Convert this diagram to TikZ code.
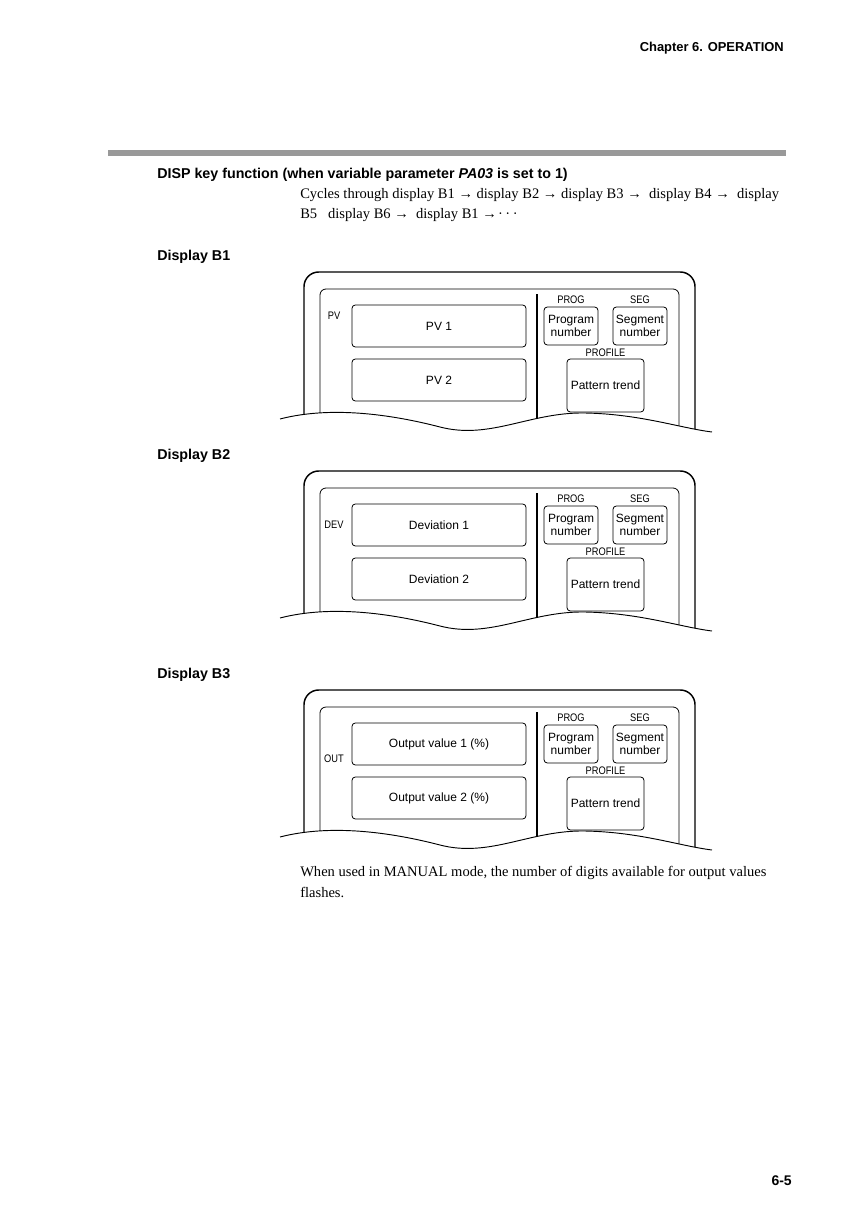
\documentclass[tikz,border=0pt]{standalone}
\usepackage{fontspec}
\setmainfont{Liberation Serif}
\setsansfont{Liberation Sans}
\newfontfamily\narrowsans[FakeStretch=0.85]{Liberation Sans}
\usetikzlibrary{positioning}
\definecolor{rulegray}{RGB}{153,153,153}
% torn-off lower edge of a display panel
\newcommand\wavecut{(280,419) .. controls (330,406) and (390,414) .. (440,427) .. controls (490,440) and (530,412) .. (585,413) .. controls (640,414) and (680,428) .. (712,432)}

\begin{document}
\begin{tikzpicture}[x=0.75pt, y=-0.75pt,
  headtext/.style={font=\fontsize{10.7}{12}\selectfont\sffamily\bfseries, anchor=base west, inner sep=0pt},
  bodytext/.style={font=\fontsize{10.9}{13}\selectfont\rmfamily, anchor=base west, inner sep=0pt},
  tagtext/.style={font=\fontsize{8.2}{9}\selectfont\narrowsans, inner sep=0pt},
  panelbox/.style={draw, line width=0.6pt, rounded corners=2.5pt, inner sep=1pt, align=center, font=\fontsize{9}{9.5}\selectfont\sffamily},
  widebox/.style={panelbox, minimum width=130.5pt, minimum height=31.5pt},
  smallbox/.style={panelbox, minimum width=40.5pt, minimum height=28.5pt},
  trendbox/.style={panelbox, minimum width=57.75pt, minimum height=39.75pt}]
\useasboundingbox (0,0) rectangle (867,1227);

\node[font=\fontsize{9.7}{11}\selectfont\sffamily\bfseries, anchor=base east, inner sep=0pt] (chap) at (784,52) {Chapter 6. OPERATION};
\fill[rulegray] (108,150) rectangle (786,156);

\node[headtext] (title) at (157,178) {DISP key function (when variable parameter \textit{PA03} is set to 1)};
\node[bodytext] (cyc1) at (300,198) {Cycles through display B1 → display B2 → display B3 →\ \ display B4 →\ \ display};
\node[bodytext] (cyc2) at (300,218) {B5\ \ \ display B6 →\ \ display B1 →\kern1pt·\,·\,·};

\foreach \dy/\tag/\tagy/\ta/\tb [count=\i] in {0/PV/316/PV 1/PV 2, 199/DEV/326/Deviation 1/Deviation 2, 418/OUT/341/Output value 1 (\%)/Output value 2 (\%)}
{
\begin{scope}[shift={(0,\dy)}]
  \node[headtext] (head\i) at (157,260) {Display B\i};
  \begin{scope}
    \clip \wavecut -- (712,260) -- (280,260) -- cycle;
    \draw[line width=1.1pt, rounded corners=11pt] (304,440) -- (304,272) -- (695,272) -- (695,440);
    \draw[line width=0.6pt, rounded corners=4.5pt] (320,440) -- (320,289) -- (679,289) -- (679,440);
    \draw[line width=1.1pt] (537,294) -- (537,440);
  \end{scope}
  \draw[line width=0.7pt] \wavecut;
  \node[tagtext] (tag\i) at (334,\tagy) {\tag};
  \node[widebox] (one\i) at (439,326) {\ta};
  \node[widebox] (two\i) at (439,380) {\tb};
  \node[smallbox] (prog\i) at (571,326) {Program\\number};
  \node[smallbox] (seg\i) at (640,326) {Segment\\number};
  \node[trendbox] (trend\i) at (605.5,385.5) {Pattern trend};
  \node[tagtext, above=2pt of prog\i] (progl\i) {PROG};
  \node[tagtext, above=2pt of seg\i] (segl\i) {SEG};
  \node[tagtext, above=1.6pt of trend\i] (profl\i) {PROFILE};
\end{scope}
}

\node[bodytext] (man1) at (300,876) {When used in MANUAL mode, the number of digits available for output values};
\node[bodytext] (man2) at (300,897) {flashes.};

\node[font=\fontsize{10.5}{12}\selectfont\sffamily\bfseries, anchor=base east, inner sep=0pt] (page) at (792,1185) {6-5};
\end{tikzpicture}
\end{document}
